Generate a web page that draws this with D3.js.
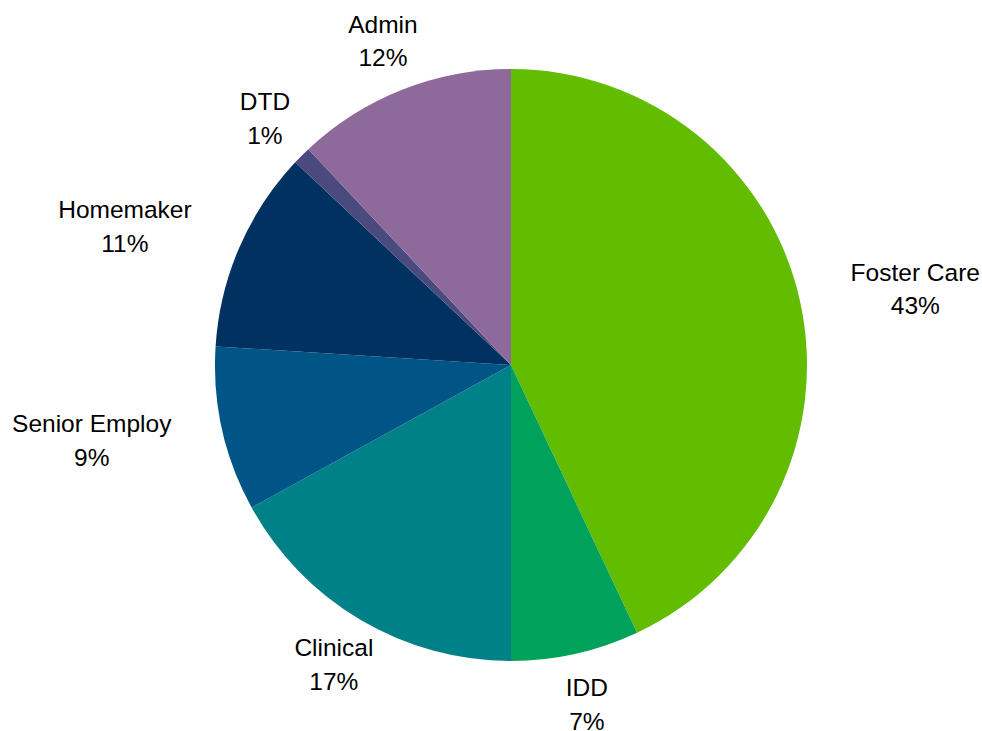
<!DOCTYPE html>
<html lang="en">
<head>
    <meta charset="UTF-8">
    <title>Program Share Pie</title>
    <script src="https://d3js.org/d3.v7.min.js"></script>
    <style>
        body { margin: 0; background: #fff; }
        .slice-label {
            font-family: "Liberation Sans", Arial, sans-serif;
            font-size: 24.5px;
            fill: #000;
        }
    </style>
</head>
<body>
    <div id="chart"></div>

    <script>
        // Data, clockwise from 12 o'clock
        const categories = ["Foster Care", "IDD", "Clinical", "Senior Employ", "Homemaker", "DTD", "Admin"];
        const shares = [43, 7, 17, 9, 11, 1, 12];
        const sliceColors = ["#62bd00", "#00a25b", "#008087", "#005587", "#003160", "#4b4a7e", "#8e699b"];

        const width = 982, height = 731;
        const cx = 511, cy = 365;
        const radius = 296;
        const labelRadius = 348;   // where the label anchor sits
        const lineGap = 33.5;

        const rows = categories.map((c, i) => ({ name: c, value: shares[i], color: sliceColors[i] }));
        const total = d3.sum(shares);

        const svg = d3.select("#chart")
            .append("svg")
            .attr("width", width)
            .attr("height", height);

        const g = svg.append("g")
            .attr("transform", `translate(${cx},${cy})`);

        const pie = d3.pie()
            .sort(null)
            .value(d => d.value);

        const arc = d3.arc()
            .innerRadius(0)
            .outerRadius(radius);

        const arcs = pie(rows);

        g.selectAll(".slice")
            .data(arcs)
            .join("path")
            .attr("class", "slice")
            .attr("d", arc)
            .attr("fill", d => d.data.color);

        // Labels: centred on the anchor for top/bottom slices,
        // pushed sideways (left/right aligned) for slices near 3 or 9 o'clock
        const labels = g.selectAll(".slice-label")
            .data(arcs)
            .join("text")
            .attr("class", "slice-label")
            .attr("text-anchor", "middle");

        labels.append("tspan")
            .attr("class", "l1")
            .attr("x", 0)
            .text(d => d.data.name);
        labels.append("tspan")
            .attr("class", "l2")
            .attr("x", 0)
            .text(d => Math.round(d.data.value / total * 100) + "%");

        labels.each(function(d) {
            const t = d3.select(this);
            const a = (d.startAngle + d.endAngle) / 2;
            const s = Math.sin(a), c = Math.cos(a);
            let ax = labelRadius * s;
            const ay = -labelRadius * c;

            const w = Math.max(
                t.select(".l1").node().getComputedTextLength(),
                t.select(".l2").node().getComputedTextLength()
            );
            if (Math.abs(s) > Math.cos(Math.PI / 6)) {
                ax += (s > 0 ? 1 : -1) * w / 2;
            }

            t.selectAll("tspan").attr("x", ax);
            t.select(".l1").attr("y", ay - 8.5);
            t.select(".l2").attr("y", ay - 8.5 + lineGap);
        });
    </script>
</body>
</html>
